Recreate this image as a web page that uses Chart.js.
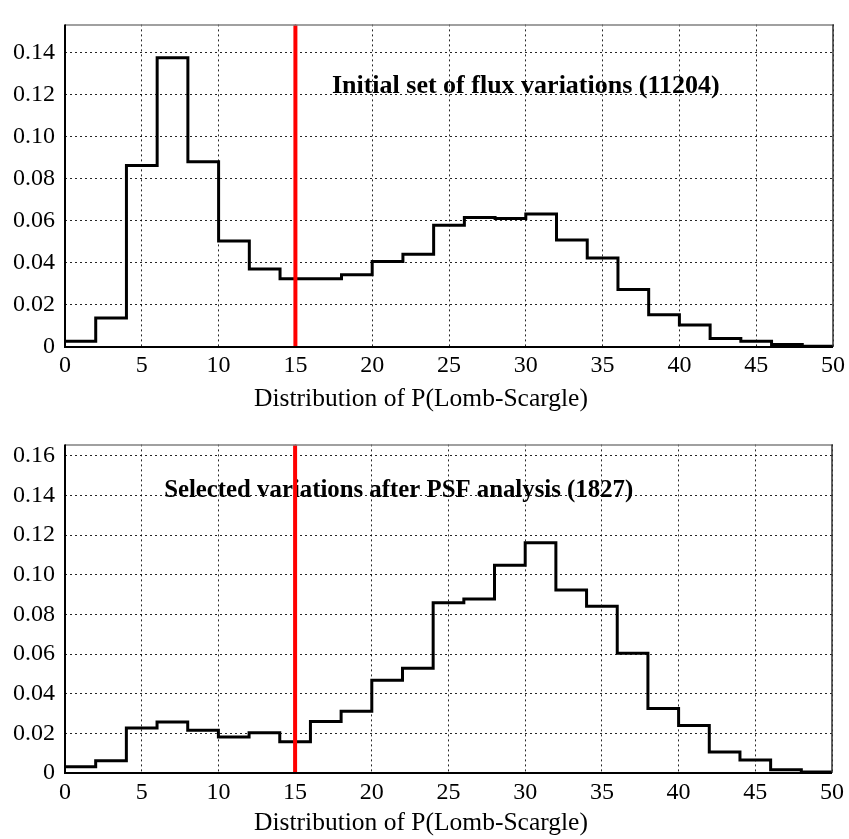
<!DOCTYPE html>
<html>
<head>
<meta charset="utf-8">
<script src="https://cdn.jsdelivr.net/npm/chart.js@4.4.1/dist/chart.umd.min.js"></script>
<style>
  html, body { margin: 0; padding: 0; background: #fff; }
  #wrap { position: relative; width: 849px; height: 839px; }
  .pane { position: absolute; left: 0; width: 849px; }
</style>
</head>
<body>
<div id="wrap">
  <div class="pane" style="top:0;height:420px"><canvas id="c1" width="849" height="420"></canvas></div>
  <div class="pane" style="top:420px;height:419px"><canvas id="c2" width="849" height="419"></canvas></div>
</div>
<script>
// ---- data ----
const binEdges = [0, 2, 4, 6, 8, 10, 12, 14, 16, 18, 20, 22, 24, 26, 28, 30, 32, 34, 36, 38, 40, 42, 44, 46, 48, 50];
const topValues = [0.0027, 0.0138, 0.0864, 0.1376, 0.0882, 0.0504, 0.0371, 0.0325, 0.0325, 0.0344, 0.0407, 0.0441,
                   0.0579, 0.0616, 0.0612, 0.0633, 0.0509, 0.0423, 0.0274, 0.0153, 0.0105, 0.0040, 0.0027, 0.0012, 0.0004];
const bottomValues = [0.0032, 0.0062, 0.0227, 0.0257, 0.0216, 0.0182, 0.0203, 0.0158, 0.0260, 0.0312, 0.0468, 0.0528,
                      0.0858, 0.0877, 0.1048, 0.1161, 0.0923, 0.0841, 0.0604, 0.0325, 0.0240, 0.0106, 0.0065, 0.0016, 0.0005];
const xTicks = [0, 5, 10, 15, 20, 25, 30, 35, 40, 45, 50];
const topYTicks = [0, 0.02, 0.04, 0.06, 0.08, 0.10, 0.12, 0.14];
const bottomYTicks = [0, 0.02, 0.04, 0.06, 0.08, 0.10, 0.12, 0.14, 0.16];
const topYMax = 0.1535;
const bottomYMax = 0.1657;
const threshold = 15;
const topLabel = 'Initial set of flux variations (11204)';
const bottomLabel = 'Selected variations after PSF analysis (1827)';
const xTitle = 'Distribution of P(Lomb-Scargle)';

// ---- helpers ----
const FONT = "'Liberation Serif', 'Times New Roman', serif";

function stepPoints(values) {
  return binEdges.map((x, i) => ({ x: x, y: values[Math.min(i, values.length - 1)] }));
}

const framePlugin = {
  id: 'frame',
  afterDraw(chart) {
    const { ctx, chartArea: a } = chart;
    ctx.save();
    ctx.setLineDash([]);
    ctx.lineWidth = 1.5;
    ctx.strokeStyle = '#808080';
    ctx.beginPath();
    ctx.moveTo(a.left, a.top + 0.5); ctx.lineTo(a.right, a.top + 0.5);
    ctx.stroke();
    ctx.strokeStyle = '#333';
    ctx.beginPath();
    ctx.moveTo(a.right, a.top); ctx.lineTo(a.right, a.bottom);
    ctx.stroke();
    ctx.lineWidth = 2;
    ctx.strokeStyle = '#000';
    ctx.beginPath();
    ctx.moveTo(a.left, a.top); ctx.lineTo(a.left, a.bottom); ctx.lineTo(a.right, a.bottom);
    ctx.stroke();
    ctx.restore();
  }
};

const labelPlugin = {
  id: 'label',
  beforeDatasetsDraw(chart, args, opts) {
    const { ctx, scales } = chart;
    ctx.save();
    ctx.font = 'bold ' + opts.size + 'px ' + FONT;
    ctx.fillStyle = '#000';
    ctx.textAlign = 'center';
    ctx.textBaseline = 'middle';
    ctx.fillText(opts.text, scales.x.getPixelForValue(opts.x), scales.y.getPixelForValue(opts.y));
    ctx.restore();
  },
  afterDraw(chart, args, opts) {
    const { ctx } = chart;
    ctx.save();
    ctx.font = '25.5px ' + FONT;
    ctx.fillStyle = '#000';
    ctx.textAlign = 'center';
    ctx.textBaseline = 'middle';
    ctx.fillText(xTitle, opts.titleX, opts.titleY);
    ctx.restore();
  }
};

function makeChart(id, values, yTicks, yMax, label, labelX, labelY, labelSize, padTop, xAxisHeight, tickPad, titleY) {
  return new Chart(document.getElementById(id), {
    type: 'line',
    data: {
      datasets: [
        {
          data: [{ x: threshold, y: 0 }, { x: threshold, y: yMax }],
          borderColor: '#ff0000',
          borderWidth: 4,
          pointRadius: 0,
          fill: false,
          order: 0
        },
        {
          data: stepPoints(values),
          stepped: true,
          borderColor: '#000',
          borderWidth: 3,
          pointRadius: 0,
          fill: false,
          order: 1
        }
      ]
    },
    options: {
      responsive: false,
      maintainAspectRatio: false,
      animation: false,
      events: [],
      layout: { padding: { top: padTop, right: 16, left: 0, bottom: 0 } },
      plugins: {
        legend: { display: false },
        tooltip: { enabled: false },
        label: { text: label, x: labelX, y: labelY, size: labelSize, titleX: 421, titleY: titleY }
      },
      scales: {
        x: {
          type: 'linear',
          min: 0, max: 50,
          afterBuildTicks(scale) { scale.ticks = xTicks.map(v => ({ value: v })); },
          afterFit(scale) { scale.height = xAxisHeight; },
          ticks: {
            font: { family: FONT, size: 24 },
            color: '#000',
            padding: tickPad,
            maxRotation: 0,
            autoSkip: false,
            callback: v => String(v)
          },
          grid: { color: 'rgba(0,0,0,0.85)', lineWidth: 1, drawTicks: false },
          border: { display: false, dash: [2, 3] }
        },
        y: {
          type: 'linear',
          min: 0, max: yMax,
          afterBuildTicks(scale) { scale.ticks = yTicks.map(v => ({ value: v })); },
          afterFit(scale) { scale.width = 65; },
          ticks: {
            font: { family: FONT, size: 24 },
            color: '#000',
            padding: 10,
            autoSkip: false,
            callback: v => (v === 0 ? '0' : v.toFixed(2))
          },
          grid: { color: 'rgba(0,0,0,0.85)', lineWidth: 1, drawTicks: false },
          border: { display: false, dash: [2, 3] }
        }
      }
    },
    plugins: [labelPlugin, framePlugin]
  });
}

makeChart('c1', topValues, topYTicks, topYMax, topLabel, 30, 0.124, 26, 5, 73, 4, 399);
makeChart('c2', bottomValues, bottomYTicks, bottomYMax, bottomLabel, 21.75, 0.1424, 24.8, 13, 66, 5, 403);
</script>
</body>
</html>
